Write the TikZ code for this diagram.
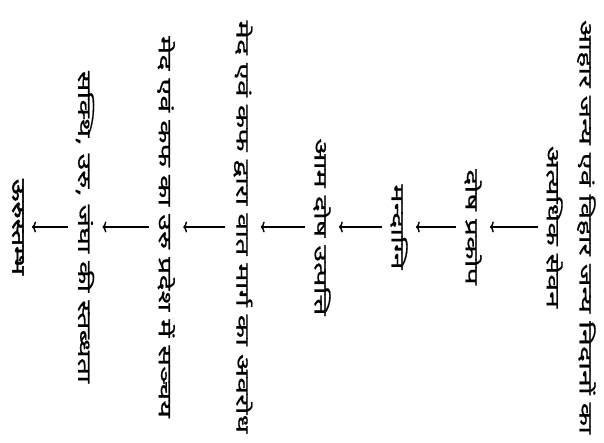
\documentclass[tikz,border=0pt]{standalone}
\usepackage{fontspec}
\newfontfamily\hindi[Script=Devanagari,FakeStretch=1.7,FakeBold=0.8]{Noto Sans}
\newfontfamily\hindibold[Script=Devanagari,FakeStretch=1.6,FakeBold=3]{Noto Sans}
\usepackage{tikz}
\usetikzlibrary{arrows.meta,positioning}

\begin{document}
\begin{tikzpicture}[x=1bp,y=1bp,font=\hindi\fontsize{18}{21}\selectfont,
  stage/.style={rotate=-90,inner sep=0pt,align=center},
  flow/.style={-{To[length=4bp,width=11bp]},line width=1.4bp,shorten >=8bp,shorten <=8bp}]
\useasboundingbox (0,0) rectangle (604,443);
\node[stage] (nidana) at (571,216) {आहार जन्य एवं विहार जन्य निदानों का\\[12bp]अत्यधिक सेवन};
\node[stage] (prakopa) at (473,216) {दोष प्रकोप};
\node[stage] (mandagni) at (399,216) {मन्दाग्नि};
\node[stage] (ama) at (322,216) {आम दोष उत्पत्ति};
\node[stage] (avarodha) at (243,216) {मेद एवं कफ द्वारा वात मार्ग का अवरोध};
\node[stage] (sanchaya) at (166,216) {मेद एवं कफ का उरु प्रदेश में सञ्चय};
\node[stage] (stabdhata) at (85,216) {सक्थि, उरु, जंघा की स्तब्धता};
\node[stage,font=\hindibold\fontsize{18}{21}\selectfont] (urustambha) at (18,216) {ऊरुस्तम्भ};
\foreach \a/\b in {nidana/prakopa,prakopa/mandagni,mandagni/ama,ama/avarodha,
  avarodha/sanchaya,sanchaya/stabdhata,stabdhata/urustambha}
  \draw[flow] (\a) -- (\b);
\end{tikzpicture}
\end{document}
